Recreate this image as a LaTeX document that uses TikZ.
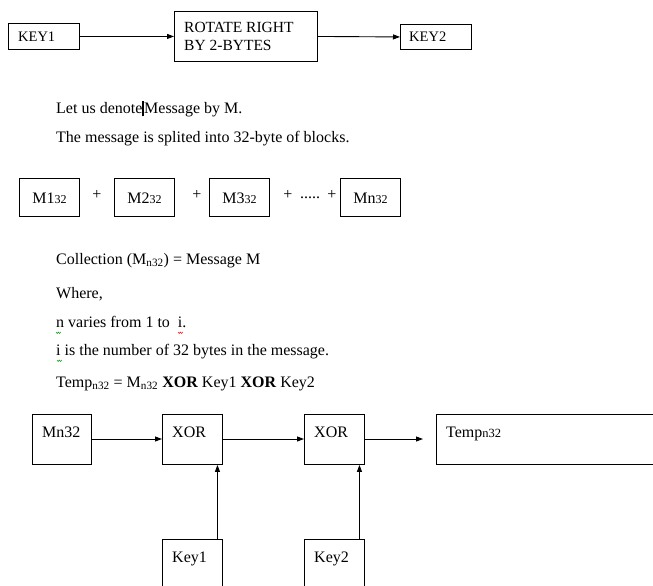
\documentclass[tikz,border=0pt]{standalone}
\usepackage{fontspec}
\setmainfont{Liberation Serif}
\usetikzlibrary{arrows.meta}
\begin{document}
\begin{tikzpicture}[x=1pt,y=-1pt,
  box/.style={draw,line width=0.9pt,inner sep=0pt},
  txt/.style={inner sep=0pt,font=\fontsize{16}{18}\selectfont},
  arr/.style={-{Triangle[length=7pt,width=5pt]},line width=0.9pt}]
\useasboundingbox (0,0) rectangle (653,586);
% top row
\node[box,minimum width=71pt,minimum height=26pt,anchor=north west] (k1) at (8,23) {};
\node[txt,anchor=mid west,font=\fontsize{14.5}{17}\selectfont] (k1t) at (18,39) {KEY1};
\node[box,minimum width=143pt,minimum height=50pt,anchor=north west] (rot) at (174,11) {};
\node[txt,anchor=north west,align=left,font=\fontsize{15.5}{18}\selectfont] (rott) at (184,22) {ROTATE RIGHT\\BY 2-BYTES};
\node[box,minimum width=71pt,minimum height=25pt,anchor=north west] (k2) at (400,24) {};
\node[txt,anchor=mid west,font=\fontsize{14.5}{17}\selectfont] (k2t) at (409,39) {KEY2};
\draw[arr] (k1.east) -- (k1.east -| rot.west);
\draw[arr] (k1.east -| rot.east) -- (k2.west);
% text
\node[txt,anchor=mid west] (l1) at (56,111) {Let us denote\rule[-3pt]{1.8pt}{15pt}Message by M.};
\node[txt,anchor=mid west] (l2) at (56,140) {The message is splited into 32-byte of blocks.};
% blocks
\foreach \n/\x/\t in {b1/19/M1, b2/114/M2, b3/209/M3, bn/340/Mn}{
  \node[box,minimum width=60pt,minimum height=38pt,anchor=north west] (\n) at (\x,178) {};
  \node[txt,anchor=center] (\n t) at ([yshift=-1pt]\n.center) {\t{\fontsize{12}{14}\selectfont 32}};
}
\node[txt] (p1) at (97,195) {+};
\node[txt] (p2) at (197,195) {+};
\node[txt] (p3) at (288,195) {+};
\node[txt] (dots) at (310,198) {.....};
\node[txt] (p4) at (332,195) {+};
% text block 2
\node[txt,anchor=mid west] (c1) at (56,262) {Collection (M\textsubscript{n32}) = Message M};
\node[txt,anchor=mid west] (c2) at (56,296) {Where,};
\node[txt,anchor=mid west] (c3) at (56,325) {n varies from 1 to\ \ i.};
\node[txt,anchor=mid west] (c4) at (56,353) {i is the number of 32 bytes in the message.};
\node[txt,anchor=mid west] (c5) at (56,385) {Temp\textsubscript{n32} = M\textsubscript{n32} \textbf{XOR} Key1 \textbf{XOR} Key2};
\draw[green!60!black,line width=0.5pt] (56,332) -- ++(1.2,1.5) -- ++(1.2,-1.5) -- ++(1.2,1.5) -- ++(1.2,-1.5);
\draw[red,line width=0.5pt] (178,332) -- ++(1.2,1.5) -- ++(1.2,-1.5) -- ++(1.2,1.5) -- ++(1.2,-1.5);
\draw[green!60!black,line width=0.5pt] (57,360) -- ++(1.2,1.5) -- ++(1.2,-1.5) -- ++(1.2,1.5) -- ++(1.2,-1.5);
% bottom diagram
\node[box,minimum width=59pt,minimum height=50pt,anchor=north west] (m) at (32,414) {};
\node[txt,anchor=mid west] (mt) at (42,435) {Mn32};
\node[box,minimum width=60pt,minimum height=50pt,anchor=north west] (x1) at (162,414) {};
\node[txt,anchor=mid west] (x1t) at (172,435) {XOR};
\node[box,minimum width=60pt,minimum height=50pt,anchor=north west] (x2) at (304,414) {};
\node[txt,anchor=mid west] (x2t) at (314,435) {XOR};
\node[box,minimum width=240pt,minimum height=50pt,anchor=north west] (tp) at (436,414) {};
\node[txt,anchor=mid west] (tpt) at (446,435) {Temp{\fontsize{12.5}{14}\selectfont n32}};
\node[box,minimum width=60pt,minimum height=70pt,anchor=north west] (ky1) at (162,539) {};
\node[txt,anchor=mid west] (ky1t) at (172,560) {Key1};
\node[box,minimum width=60pt,minimum height=70pt,anchor=north west] (ky2) at (304,539) {};
\node[txt,anchor=mid west] (ky2t) at (314,560) {Key2};
\coordinate (tend) at (423,439);
\draw[arr] (91,439) coordinate (ms) -- (ms -| x1.west);
\draw[arr] (222,439) coordinate (xs) -- (xs -| x2.west);
\draw[arr] (364,439) coordinate (xs2) -- (tend);
\draw[arr] (ky1.north) ++(25,0) coordinate (a1) -- (a1 |- x1.south);
\draw[arr] (ky2.north) ++(25,0) coordinate (a2) -- (a2 |- x2.south);
\end{tikzpicture}
\end{document}
